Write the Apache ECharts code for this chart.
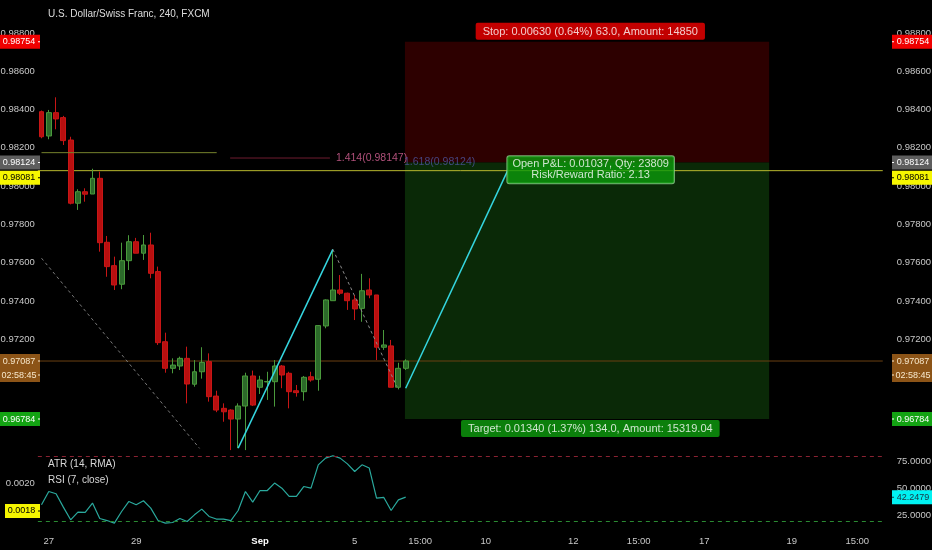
<!DOCTYPE html>
<html><head><meta charset="utf-8">
<script src="https://cdn.jsdelivr.net/npm/echarts@6/dist/echarts.min.js"></script>
<style>html,body{margin:0;padding:0;background:#000}#c{width:932px;height:550px}</style>
</head><body><div id="c"></div>
<script>
// ---------- data ----------
const barCount = 116;
const opens  = [0.98389,0.98262,0.98384,0.98358,0.98241,0.97911,0.97971,0.97959,0.98041,0.97707,0.97585,0.97488,0.97611,0.97710,0.97650,0.97693,0.97554,0.97188,0.97049,0.97061,0.97101,0.96966,0.97031,0.97084,0.96904,0.96840,0.96831,0.96784,0.96852,0.97009,0.96950,0.96978,0.96979,0.97061,0.97023,0.96932,0.96927,0.97005,0.96992,0.97270,0.97402,0.97458,0.97441,0.97406,0.97362,0.97458,0.97432,0.97159,0.97166,0.96950,0.97049];
const closes = [0.98258,0.98384,0.98351,0.98238,0.97911,0.97971,0.97958,0.98041,0.97705,0.97580,0.97484,0.97611,0.97710,0.97650,0.97693,0.97545,0.97183,0.97049,0.97066,0.97101,0.96967,0.97031,0.97080,0.96901,0.96831,0.96822,0.96784,0.96852,0.97009,0.96857,0.96988,0.96980,0.97061,0.97014,0.96927,0.96922,0.97002,0.96988,0.97272,0.97406,0.97458,0.97441,0.97402,0.97359,0.97454,0.97432,0.97159,0.97171,0.96950,0.97049,0.97087];
const highs  = [0.98395,0.98398,0.98464,0.98367,0.98258,0.97984,0.97989,0.98091,0.98076,0.97740,0.97632,0.97705,0.97744,0.97730,0.97745,0.97757,0.97580,0.97235,0.97101,0.97110,0.97162,0.97092,0.97159,0.97127,0.96932,0.96866,0.96835,0.96866,0.97026,0.97037,0.97010,0.97031,0.97092,0.97066,0.97031,0.96962,0.97009,0.97031,0.97275,0.97409,0.97670,0.97536,0.97444,0.97432,0.97542,0.97519,0.97432,0.97249,0.97197,0.97078,0.97096];
const lows   = [0.98250,0.98245,0.98297,0.98215,0.97905,0.97876,0.97919,0.97959,0.97658,0.97527,0.97458,0.97462,0.97562,0.97650,0.97615,0.97519,0.97171,0.97026,0.97023,0.97040,0.96866,0.96953,0.96995,0.96875,0.96820,0.96770,0.96622,0.96632,0.96622,0.96852,0.96915,0.96884,0.96849,0.96945,0.96840,0.96901,0.96880,0.96979,0.96932,0.97258,0.97402,0.97432,0.97354,0.97301,0.97292,0.97415,0.97092,0.97145,0.96950,0.96939,0.97040];
const rsiValues = [35.2,47.5,45.4,33.0,21.3,28.4,28.1,36.8,22.5,20.6,18.2,29.0,38.3,35.2,38.9,32.1,20.6,18.2,18.8,22.5,19.7,25.9,31.2,24.4,22.0,22.0,20.6,29.9,47.5,37.7,48.4,48.4,55.3,50.6,42.9,42.9,52.1,50.6,72.2,78.4,80.6,78.4,73.1,66.0,72.2,69.2,41.4,42.0,29.9,39.8,42.2479];
const atrLast = 0.0018;
const rsiUpper = 80, rsiLower = 20;

const xTickIndex = [1,13,30,43,52,61,73,82,91,103,112];
const xTickText  = ['27','29','Sep','5','15:00','10','12','15:00','17','19','15:00'];

const stopPrice = 0.98754, entryPrice = 0.98124, targetPrice = 0.96784;
const currentPrice = 0.97087, yellowLevel = 0.98081;
const fib1414 = 0.98147, oliveLevel = 0.98175;
const boxStartBar = 49.9, boxEndBar = 99.9;

const oliveLine = [[0, oliveLevel],[24.05, oliveLevel]];
const fibLine   = [[25.9, fib1414],[39.6, fib1414]];
const dashLine1 = [[0, 0.97624],[21.7, 0.96631]];
const zigLine1  = [[27, 0.96632],[40, 0.97670]];
const dashLine2 = [[40, 0.97670],[48.8, 0.96953]];
const zigLine2  = [[50, 0.96945],[64, yellowLevel]];

const stopText = 'Stop: 0.00630 (0.64%) 63.0, Amount: 14850';
const targetText = 'Target: 0.01340 (1.37%) 134.0, Amount: 15319.04';
const pnlText = 'Open P&L: 0.01037, Qty: 23809\nRisk/Reward Ratio: 2.13';
const titleText = 'U.S. Dollar/Swiss Franc, 240, FXCM';
const timerText = '02:58:45';

// ---------- chart ----------
const sans = "'Liberation Sans',Arial,sans-serif";
const axisFont = 9.5;
const tagFont = 9;
const categories = Array.from({length: barCount}, (_, i) => String(i));
const candleData = opens.map((o, i) => [o, closes[i], lows[i], highs[i]]);
const boxMid = (boxStartBar + boxEndBar) / 2 + 0.45;
const fullSpan = (v) => [[-0.5, v], [barCount - 0.5, v]];

const G0 = {left: 37.86, width: 844.9, top: 25.3, height: 429, containLabel:false, outerBoundsMode:'none'};
const G1 = {left: 37.86, width: 844.9, top: 451, height: 81, containLabel:false, outerBoundsMode:'none'};

function priceFmt(v) {
  const k = Math.round(v / 0.002);
  if (Math.abs(v - k * 0.002) > 1e-7 || v < 0.9665) return '';
  return v.toFixed(5);
}
const hiddenAxis = {axisLine:{show:false}, axisTick:{show:false}, splitLine:{show:false}};

function seg(data, color, width, type, extra) {
  return Object.assign({
    type: 'line', xAxisIndex: 2, yAxisIndex: 0, data: data, showSymbol: false, symbol: 'none',
    silent: true, z: 4, lineStyle: {color: color, width: width, type: type}
  }, extra || {});
}
const boxLabel = {fontSize: 11, fontFamily: sans, color: '#fff', borderRadius: 2, lineHeight: 12};

const option = {
  backgroundColor: '#000',
  animation: false,
  grid: [G0, G1],
  xAxis: [
    Object.assign({type:'category', gridIndex:0, data:categories, boundaryGap:true, axisLabel:{show:false}}, hiddenAxis),
    Object.assign({type:'category', gridIndex:1, data:categories, boundaryGap:true,
      axisLabel:{
        interval: (i) => xTickIndex.indexOf(i) >= 0,
        formatter: (v) => { const t = xTickText[xTickIndex.indexOf(Number(v))]; return t === 'Sep' ? '{b|Sep}' : t; },
        color:'#c8c8c8', fontSize:axisFont, fontFamily:sans, margin:4,
        rich:{b:{color:'#ffffff', fontWeight:'bold', fontSize:axisFont, fontFamily:sans}}
      }}, hiddenAxis),
    {type:'value', gridIndex:0, min:-0.5, max:barCount-0.5, show:false}
  ],
  yAxis: [
    Object.assign({type:'value', gridIndex:0, position:'left', min:0.966, max:0.9884, interval:0.002,
      axisLabel:{color:'#c8c8c8', fontSize:axisFont, fontFamily:sans, margin:3, formatter:priceFmt, showMaxLabel:false}}, hiddenAxis),
    Object.assign({type:'value', gridIndex:0, position:'right', min:0.966, max:0.9884, interval:0.002,
      axisLabel:{color:'#c8c8c8', fontSize:axisFont, fontFamily:sans, margin:14, formatter:priceFmt, showMaxLabel:false}}, hiddenAxis),
    Object.assign({type:'value', gridIndex:1, position:'left', min:0.00165, max:0.0022286, interval:0.00005,
      axisLabel:{color:'#c8c8c8', fontSize:axisFont, fontFamily:sans, margin:3,
        formatter:(v) => Math.abs(v - 0.002) < 1e-8 ? '0.0020' : ''}}, hiddenAxis),
    Object.assign({type:'value', gridIndex:1, position:'right', min:10, max:85, interval:5,
      axisLabel:{color:'#c8c8c8', fontSize:axisFont, fontFamily:sans, margin:14,
        formatter:(v) => (Math.abs(v-25)<1e-6||Math.abs(v-50)<1e-6||Math.abs(v-75)<1e-6) ? v.toFixed(4) : ''}}, hiddenAxis)
  ],
  series: [
    {
      type:'custom', xAxisIndex:2, yAxisIndex:0, silent:true, z:1,
      data: [[boxStartBar, stopPrice, boxEndBar, entryPrice], [boxStartBar, entryPrice, boxEndBar, targetPrice]],
      encode: {x:[0,2], y:[1,3]},
      renderItem: (params, api) => {
        const p0 = api.coord([api.value(0), api.value(1)]);
        const p1 = api.coord([api.value(2), api.value(3)]);
        return {type:'rect', shape:{x:p0[0], y:p0[1], width:p1[0]-p0[0], height:p1[1]-p0[1]},
          style:{fill: params.dataIndex === 0 ? '#2d0000' : '#0a2907'}};
      }
    },
    seg(fullSpan(yellowLevel), '#b8b82e', 1, 'solid', {z:2}),
    seg(fullSpan(currentPrice), '#6b4012', 1, 'solid', {z:2}),
    {
      type:'candlestick', xAxisIndex:0, yAxisIndex:0, data:candleData, barWidth:5.4, z:3,
      itemStyle:{color:'#2c6a2a', color0:'#b80f0f', borderColor:'#4a9a3c', borderColor0:'#c81616', borderWidth:1}
    },
    seg(oliveLine, '#76832c', 1, 'solid'),
    seg(fibLine, '#6e1c30', 1, 'solid', {endLabel:{show:true, formatter:'1.414(0.98147)', color:'#b0507a', fontSize:10.5, fontFamily:sans, distance:6}}),
    seg(dashLine1, '#7a7a7a', 1, [3,3]),
    seg(zigLine1, '#35d6e0', 1.5, 'solid'),
    seg(dashLine2, '#8a8a8a', 1, [3,3]),
    seg(zigLine2, '#35d6e0', 1.5, 'solid'),
    {
      type:'scatter', xAxisIndex:2, yAxisIndex:0, symbolSize:0, silent:true, z:6,
      data:[
        {value:[boxMid, stopPrice], label:Object.assign({show:true, position:'top', distance:2, formatter:stopText,
          backgroundColor:'#f20000', padding:[3,7,2,7]}, boxLabel)},
        {value:[boxMid, targetPrice], label:Object.assign({show:true, position:'bottom', distance:1, formatter:targetText,
          backgroundColor:'#0e9f0e', padding:[3,7,2,7]}, boxLabel)},
        {value:[49.77, entryPrice], label:{show:true, position:'right', distance:0, formatter:'1.618(0.98124)',
          color:'#4f55a0', fontSize:10.5, fontFamily:sans}},
        {value:[zigLine2[1][0], zigLine2[1][1]], label:Object.assign({show:true, position:'right', distance:0, formatter:pnlText,
          backgroundColor:'#0b9a0b', borderColor:'#8fd48f', borderWidth:1, padding:[3,5,2,5], align:'center', offset:[83,-1]}, boxLabel, {lineHeight:11})}
      ]
    },
    {
      type:'line', xAxisIndex:1, yAxisIndex:3, data:rsiValues, showSymbol:false, symbol:'none', silent:true,
      lineStyle:{color:'#2aa99d', width:1.2},
      markLine:{silent:true, symbol:'none', label:{show:false}, data:[
        {yAxis: rsiUpper, lineStyle:{color:'#8a2232', width:1, type:[4,4]}},
        {yAxis: rsiLower, lineStyle:{color:'#2a8a32', width:1, type:[4,4]}}
      ]}
    }
  ]
};

const chart = echarts.init(document.getElementById('c'));
chart.setOption(option);

// ---------- price tags on the scales ----------
const tags = [
  {axis:0, value:stopPrice, text:stopPrice.toFixed(5), bg:'#f00000', fg:'#ffffff', dy:0, left:true, right:true},
  {axis:0, value:entryPrice, text:entryPrice.toFixed(5), bg:'#5e5e5e', fg:'#ffffff', dy:0, left:true, right:true},
  {axis:0, value:yellowLevel, text:yellowLevel.toFixed(5), bg:'#f6f600', fg:'#000000', dy:7, left:true, right:true},
  {axis:0, value:currentPrice, text:currentPrice.toFixed(5), bg:'#8c5417', fg:'#f7e8cc', dy:0, left:true, right:true},
  {axis:0, value:currentPrice, text:timerText, bg:'#8c5417', fg:'#f7e8cc', dy:14, left:true, right:true},
  {axis:0, value:targetPrice, text:targetPrice.toFixed(5), bg:'#13a313', fg:'#ffffff', dy:0, left:true, right:true},
  {axis:3, value:rsiValues[rsiValues.length-1], text:rsiValues[rsiValues.length-1].toFixed(4), bg:'#00f2f2', fg:'#1b3040', dy:0, left:false, right:true},
  {axis:2, value:atrLast, text:atrLast.toFixed(4), bg:'#f6f600', fg:'#000000', dy:0, left:true, right:false, lx:5}
];
const els = [];
tags.forEach(t => {
  const y = chart.convertToPixel({yAxisIndex:t.axis}, t.value) + t.dy;
  if (t.left) {
    const x0 = t.lx || 0, w = 40 - x0;
    els.push({type:'rect', z:100, shape:{x:x0, y:y-7, width:w, height:14}, style:{fill:t.bg}});
    els.push({type:'rect', z:101, shape:{x:38, y:y-0.5, width:2, height:1}, style:{fill:t.fg}});
    els.push({type:'text', z:101, style:{text:t.text, x:x0 + (w-2)/2, y:y, fill:t.fg, font:tagFont+"px "+sans, textAlign:'center', textVerticalAlign:'middle'}});
  }
  if (t.right) {
    els.push({type:'rect', z:100, shape:{x:892, y:y-7, width:40, height:14}, style:{fill:t.bg}});
    els.push({type:'rect', z:101, shape:{x:892, y:y-0.5, width:2, height:1}, style:{fill:t.fg}});
    els.push({type:'text', z:101, style:{text:t.text, x:913, y:y, fill:t.fg, font:tagFont+"px "+sans, textAlign:'center', textVerticalAlign:'middle'}});
  }
});
els.push({type:'text', z:101, style:{text:titleText, x:48, y:14, fill:'#dcdcdc', font:"10px "+sans, textAlign:'left', textVerticalAlign:'middle'}});
els.push({type:'text', z:101, style:{text:'ATR (14, RMA)', x:48, y:464, fill:'#d8d8d8', font:"10px "+sans, textAlign:'left', textVerticalAlign:'middle'}});
els.push({type:'text', z:101, style:{text:'RSI (7, close)', x:48, y:480, fill:'#d8d8d8', font:"10px "+sans, textAlign:'left', textVerticalAlign:'middle'}});
chart.setOption({graphic:{elements:els}});
</script></body></html>
